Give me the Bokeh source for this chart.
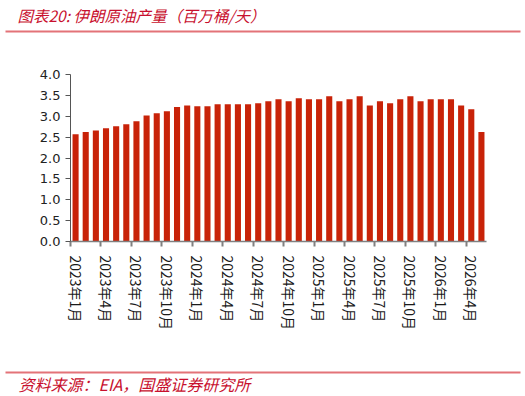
from bokeh.plotting import figure
from bokeh.layouts import column, row
from bokeh.models import Range1d, FixedTicker, ColumnDataSource, PrintfTickFormatter
from bokeh.core.properties import value
from bokeh.embed import file_html
from bokeh.resources import INLINE

# ---------------- data ----------------
months = [
    "2023年1月", "2023年2月", "2023年3月", "2023年4月", "2023年5月", "2023年6月",
    "2023年7月", "2023年8月", "2023年9月", "2023年10月", "2023年11月", "2023年12月",
    "2024年1月", "2024年2月", "2024年3月", "2024年4月", "2024年5月", "2024年6月",
    "2024年7月", "2024年8月", "2024年9月", "2024年10月", "2024年11月", "2024年12月",
    "2025年1月", "2025年2月", "2025年3月", "2025年4月", "2025年5月", "2025年6月",
    "2025年7月", "2025年8月", "2025年9月", "2025年10月", "2025年11月", "2025年12月",
    "2026年1月", "2026年2月", "2026年3月", "2026年4月", "2026年5月",
]
production = [
    2.57, 2.62, 2.66, 2.71, 2.76, 2.81, 2.88, 3.02, 3.07, 3.12,
    3.22, 3.26, 3.24, 3.24, 3.29, 3.29, 3.29, 3.29, 3.31, 3.36,
    3.41, 3.36, 3.43, 3.41, 3.41, 3.48, 3.36, 3.41, 3.48, 3.26,
    3.36, 3.31, 3.41, 3.48, 3.36, 3.41, 3.41, 3.41, 3.26, 3.17,
    2.62,
]
y_ticks = [0.0, 0.5, 1.0, 1.5, 2.0, 2.5, 3.0, 3.5, 4.0]
title_text = "图表20:   伊朗原油产量（百万桶/天）"
source_text = "资料来源：EIA，国盛证券研究所"

RED = "#C8102E"
LINE_RED = "#E37378"
BAR = "#C82208"
W = 525


def banner(height):
    f = figure(width=W, height=height, x_range=Range1d(0, W), y_range=Range1d(height, 0),
               x_axis_type=None, y_axis_type=None, toolbar_location=None,
               output_backend="svg", min_border=0, min_border_left=0, min_border_right=0,
               min_border_top=0, min_border_bottom=0, outline_line_color=None)
    f.grid.visible = False
    return f


# ---------------- header ----------------
head = banner(42)
head.text(x=[17], y=[14], text=[title_text], text_font=value("Noto Sans CJK SC"),
          text_font_size="15.5px", text_font_style="italic", text_color=RED,
          text_baseline="middle", text_align="left")
head.segment(x0=[5], y0=[31], x1=[520], y1=[31], line_color=LINE_RED, line_width=2)

# ---------------- main chart ----------------
x = list(range(len(production)))
src = ColumnDataSource(dict(x=x, y=production, m=months))

p = figure(width=W, height=320, x_range=Range1d(-0.5, len(production) - 0.5),
           y_range=Range1d(0, 4), toolbar_location=None, output_backend="svg",
           min_border_left=70, min_border_right=39, min_border_top=32,
           min_border_bottom=121, outline_line_color=None)
p.grid.visible = False
p.vbar(x="x", top="y", width=0.6, source=src, fill_color=BAR, line_color=None)

label_idx = list(range(0, len(months), 3))
p.xaxis.ticker = FixedTicker(ticks=label_idx, minor_ticks=[i - 0.5 for i in label_idx])
p.xaxis.major_label_overrides = {i: months[i] for i in label_idx}
p.xaxis.major_label_orientation = "vertical"
p.xaxis.major_tick_line_color = None
p.xaxis.minor_tick_line_color = "#808080"
p.xaxis.minor_tick_line_width = 2
p.xaxis.minor_tick_out = 5
p.xaxis.minor_tick_in = 0
p.xaxis.axis_line_color = "#808080"
p.xaxis.axis_line_width = 1.5
p.xaxis.major_label_standoff = 8
p.xaxis.major_label_text_font = "Noto Sans CJK SC"
p.xaxis.major_label_text_font_size = "14px"
p.xaxis.major_label_text_color = "#1a1a1a"

p.yaxis.ticker = FixedTicker(ticks=y_ticks)
p.yaxis.formatter = PrintfTickFormatter(format="%.1f")
p.yaxis.minor_tick_line_color = None
p.yaxis.major_tick_out = 5
p.yaxis.major_tick_in = 0
p.yaxis.major_tick_line_color = "#555555"
p.yaxis.axis_line_color = "#555555"
p.yaxis.major_label_standoff = 5
p.yaxis.major_label_text_font = "DejaVu Sans"
p.yaxis.major_label_text_font_size = "13px"
p.yaxis.major_label_text_color = "#222222"

# ---------------- footer ----------------
foot = banner(34)
foot.segment(x0=[5], y0=[10], x1=[520], y1=[10], line_color=LINE_RED, line_width=2)
foot.text(x=[18], y=[21], text=[source_text], text_font=value("Noto Sans CJK SC"),
          text_font_size="16px", text_font_style="italic", text_color=RED,
          text_baseline="middle", text_align="left")

layout = column(head, row(p), foot, spacing=0)
open("out.html", "w").write(file_html(layout, INLINE))
